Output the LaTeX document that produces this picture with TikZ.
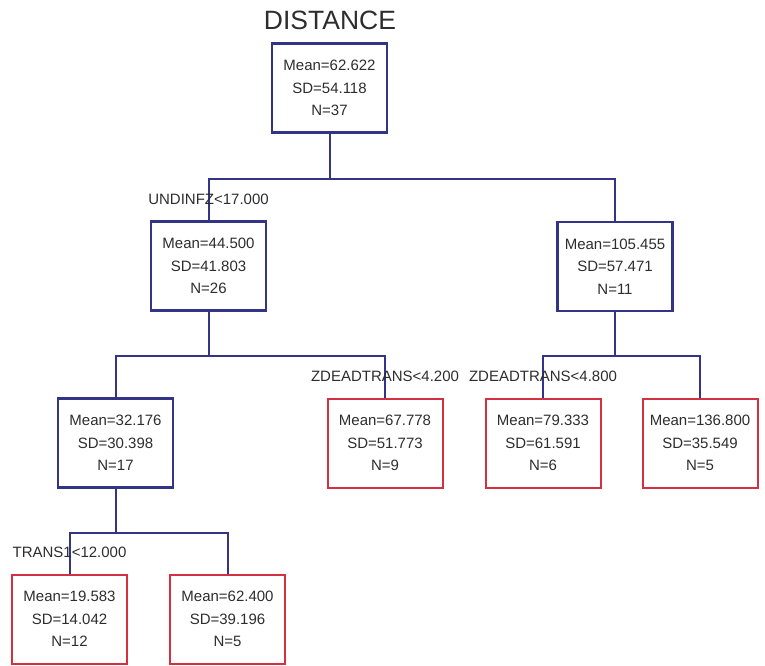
\documentclass[tikz,border=0pt]{standalone}
\usepackage{fontspec}
\setmainfont{Liberation Sans}
\usetikzlibrary{positioning}

\definecolor{treeblue}{RGB}{52,52,135}
\definecolor{leafred}{RGB}{212,48,66}
\definecolor{txt}{RGB}{45,45,45}

\begin{document}
\begin{tikzpicture}[x=1pt, y=-1pt,
    stat/.style={rectangle, draw=treeblue, line width=2.2pt, minimum width=115pt,
        minimum height=89pt, align=center, text=txt,
        font=\fontsize{15}{22.5}\selectfont},
    leaf/.style={stat, draw=leafred, line width=2pt},
    split/.style={text=txt, font=\fontsize{15}{17}\selectfont, yshift=21pt},
    edge/.style={treeblue, line width=2pt}]

        \useasboundingbox (0,0) rectangle (765,665);

        % Root
        \node (root) [stat] at (329.5, 88) {Mean=62.622\\SD=54.118\\N=37};
        \node (title) [text=txt, font=\fontsize{26.5}{30}\selectfont] at (330, 20) {DISTANCE};

        % Second level
        \node (lc) [stat] at (208.5, 266) {Mean=44.500\\SD=41.803\\N=26};
        \node (rc) [stat] at (615, 266.5) {Mean=105.455\\SD=57.471\\N=11};

        % Third level
        \node (llc) [stat] at (115.5, 443) {Mean=32.176\\SD=30.398\\N=17};
        \node (lrc) [leaf] at (385, 443) {Mean=67.778\\SD=51.773\\N=9};
        \node (rlc) [leaf] at (543, 443) {Mean=79.333\\SD=61.591\\N=6};
        \node (rrc) [leaf] at (700, 443) {Mean=136.800\\SD=35.549\\N=5};

        % Fourth level
        \node (lllc) [leaf] at (69.5, 619) {Mean=19.583\\SD=14.042\\N=12};
        \node (llrc) [leaf] at (227.5, 619) {Mean=62.400\\SD=39.196\\N=5};

        % Edges
        \draw[edge] (root.south) -- ++(0,45.5) -| (lc.north);
        \draw[edge] (root.south) -- ++(0,45.5) -| (rc.north);
        \draw[edge] (lc.south) -- ++(0,44) -| (llc.north);
        \draw[edge] (lc.south) -- ++(0,44) -| (lrc.north);
        \draw[edge] (rc.south) -- ++(0,43.5) -| (rlc.north);
        \draw[edge] (rc.south) -- ++(0,43.5) -| (rrc.north);
        \draw[edge] (llc.south) -- ++(0,44) -| (lllc.north);
        \draw[edge] (llc.south) -- ++(0,44) -| (llrc.north);

        % Split rules
        \node (s_lc) [split] at (lc.north) {UNDINFZ<17.000};
        \node (s_lrc) [split] at (lrc.north) {ZDEADTRANS<4.200};
        \node (s_rlc) [split] at (rlc.north) {ZDEADTRANS<4.800};
        \node (s_lllc) [split] at (lllc.north) {TRANS1<12.000};

    \end{tikzpicture}
\end{document}
